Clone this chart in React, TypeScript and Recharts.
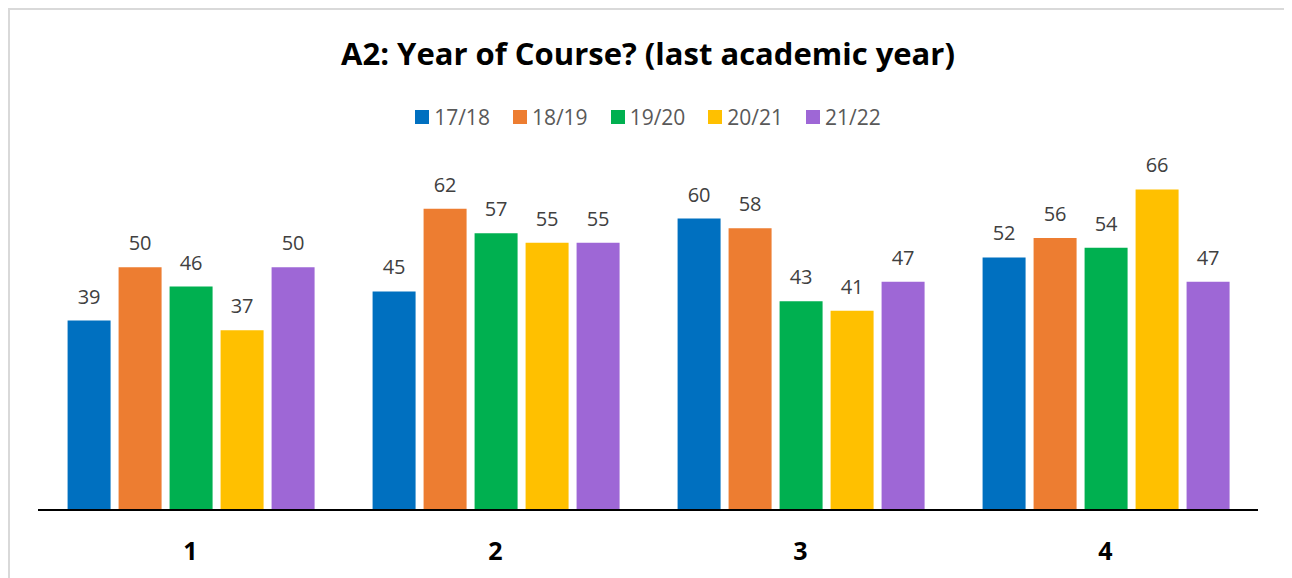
import React from 'react';
import { BarChart, Bar, XAxis, YAxis, Legend, LabelList } from 'recharts';

const categories = ['1', '2', '3', '4'];
const seriesNames = ['17/18', '18/19', '19/20', '20/21', '21/22'];
const s1718 = [39, 45, 60, 52];
const s1819 = [50, 62, 58, 56];
const s1920 = [46, 57, 43, 54];
const s2021 = [37, 55, 41, 66];
const s2122 = [50, 55, 47, 47];
const colors = ['#0070C0', '#ED7D31', '#00B050', '#FFC000', '#9E67D6'];

const seriesValues = [s1718, s1819, s1920, s2021, s2122];
const data = categories.map((c, i) => {
  const row: any = { cat: c };
  seriesNames.forEach((n, j) => { row[n] = seriesValues[j][i]; });
  return row;
});

const FONT = '"Open Sans", "Noto Sans", sans-serif';

const LegendContent = () => (
  <div style={{ display: 'flex', justifyContent: 'center', alignItems: 'center', height: 24, fontFamily: FONT, fontSize: 21, color: '#595959' }}>
    {seriesNames.map((n, i) => (
      <div key={n} style={{ display: 'flex', alignItems: 'center', marginRight: i < 4 ? 23 : 0 }}>
        <span style={{ display: 'inline-block', width: 14, height: 14, background: colors[i], marginRight: 5 }} />
        <span>{n}</span>
      </div>
    ))}
  </div>
);

export default function App() {
  return (
    <div style={{ position: 'relative', width: 1276, height: 572, border: '2px solid #D9D9D9', background: '#fff' }}>
      <div style={{ position: 'absolute', top: 22, left: 0, width: 1276, textAlign: 'center', fontFamily: FONT, fontWeight: 700, fontSize: 31, color: '#000' }}>
        A2: Year of Course? (last academic year)
      </div>
      <BarChart
        width={1276}
        height={568}
        data={data}
        margin={{ top: 136, right: 28, bottom: 18, left: 28 }}
        barCategoryGap="9.7%"
        barGap={8}
      >
        <Legend verticalAlign="top" align="center" content={<LegendContent />} wrapperStyle={{ top: 95 }} />
        <YAxis hide domain={[0, 70]} />
        <XAxis
          dataKey="cat"
          axisLine={{ stroke: '#000', strokeWidth: 2 }}
          tickLine={false}
          height={50}
          tick={{ fill: '#000', fontSize: 25, fontWeight: 700, fontFamily: FONT, dy: 24 }}
        />
        {seriesNames.map((n, i) => (
          <Bar key={n} dataKey={n} fill={colors[i]} isAnimationActive={false}>
            <LabelList dataKey={n} position="top" offset={17} fill="#404040" fontSize={20} fontFamily={FONT} />
          </Bar>
        ))}
      </BarChart>
    </div>
  );
}
